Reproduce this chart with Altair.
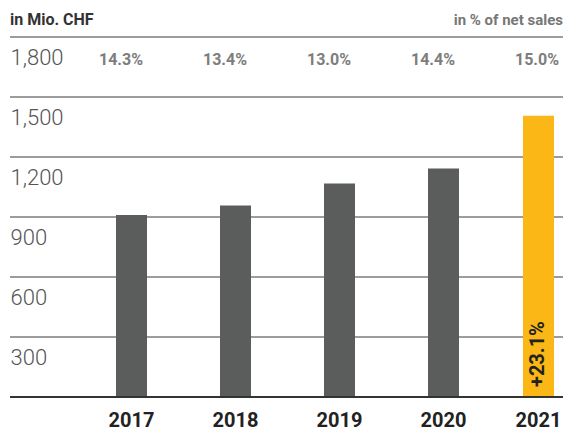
import altair as alt
import pandas as pd

years = ["2017", "2018", "2019", "2020", "2021"]
values = [910, 958, 1067, 1142, 1406]
shares = ["14.3%", "13.4%", "13.0%", "14.4%", "15.0%"]
growth_label = "+23.1%"
grid_values = [300, 600, 900, 1200, 1500, 1800]

df = pd.DataFrame({"year": years, "value": values, "share": shares})
df["highlight"] = df["year"] == "2021"
grid_df = pd.DataFrame({"v": grid_values})

W, H = 553, 360
FONT = "Roboto"

x_scale = alt.Scale(domain=years, range=[106, 553], paddingInner=0.70192, paddingOuter=0)
y_scale = alt.Scale(domain=[0, 1800], nice=False)

base = alt.Chart(df)

grid = alt.Chart(grid_df).mark_rule(color="#3a3a3a", strokeWidth=1.2).encode(
    y=alt.Y("v:Q", scale=y_scale,
            axis=alt.Axis(values=grid_values, format=",d", orient="left",
                          labelAlign="left", labelBaseline="alphabetic",
                          labelPadding=0, tickSize=0, ticks=False, domain=False, grid=False,
                          labelOffset=27.5, labelFont=FONT, labelFontSize=22,
                          labelFontWeight=300, labelColor="#555555", title=None))
)

baseline = alt.Chart(df).mark_rule(color="#333333", strokeWidth=2.2).encode(
    y=alt.datum(0, scale=y_scale)
)

bars_grey = base.transform_filter("!datum.highlight").mark_bar(color="#5b5d5c").encode(
    x=alt.X("year:N", scale=x_scale, axis=None),
    y=alt.Y("value:Q", scale=y_scale),
)
bars_hi = base.transform_filter("datum.highlight").mark_bar(color="#fbb715", xOffset=-9).encode(
    x=alt.X("year:N", scale=x_scale, axis=None),
    y=alt.Y("value:Q", scale=y_scale),
)

share_text = base.mark_text(font=FONT, fontSize=16, fontWeight="bold", color="#7d7d7d",
                            baseline="alphabetic", dx=-10.5, dy=27.5).encode(
    x=alt.X("year:N", scale=x_scale, axis=None),
    y=alt.datum(1800, scale=y_scale),
    text="share:N",
)

year_grey = base.transform_filter("!datum.highlight").mark_text(
    font=FONT, fontSize=20, fontWeight="bold", color="#222222",
    baseline="alphabetic", dy=30).encode(
    x=alt.X("year:N", scale=x_scale, axis=None),
    y=alt.datum(0, scale=y_scale),
    text="year:N",
)
year_hi = base.transform_filter("datum.highlight").mark_text(
    font=FONT, fontSize=20, fontWeight="bold", color="#222222",
    baseline="alphabetic", dy=30, xOffset=-9).encode(
    x=alt.X("year:N", scale=x_scale, axis=None),
    y=alt.datum(0, scale=y_scale),
    text="year:N",
)

growth = base.transform_filter("datum.highlight").transform_calculate(lbl=f"'{growth_label}'").mark_text(
    font=FONT, fontSize=20, fontWeight="bold", color="#222222", angle=270,
    align="left", baseline="middle", dx=10, xOffset=-9).encode(
    x=alt.X("year:N", scale=x_scale, axis=None),
    y=alt.datum(0, scale=y_scale),
    text="lbl:N",
)

head_left = alt.Chart(df).transform_filter("datum.year == '2017'").mark_text(
    font=FONT, fontSize=16, fontWeight="bold", color="#333333", align="left",
    baseline="alphabetic").encode(
    x=alt.value(0), y=alt.value(-12), text=alt.value("in Mio. CHF"))
head_right = alt.Chart(df).transform_filter("datum.year == '2017'").mark_text(
    font=FONT, fontSize=15, fontWeight="bold", color="#777777", align="right",
    baseline="alphabetic").encode(
    x=alt.value(W), y=alt.value(-12), text=alt.value("in % of net sales"))

chart = alt.layer(grid, bars_grey, bars_hi, baseline, share_text, year_grey, year_hi,
                  growth, head_left, head_right).properties(
    width=W, height=H,
    autosize=alt.AutoSizeParams(type="none"),
    padding={"left": 2, "top": 29, "right": 0, "bottom": 40},
).configure_view(stroke=None)

chart.save("out.html", embed_options={"renderer": "svg", "actions": False})
